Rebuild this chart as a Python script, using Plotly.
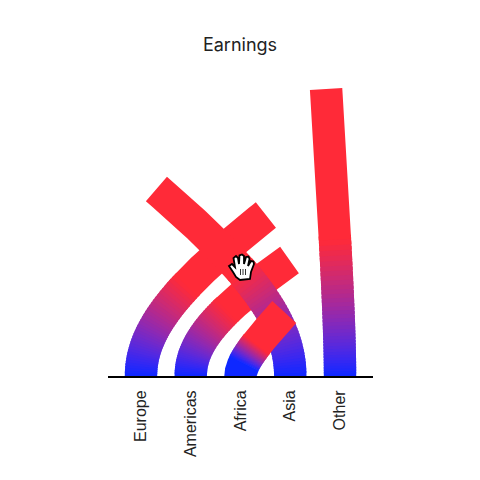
import numpy as np
import plotly.graph_objects as go

categories = ["Europe", "Americas", "Africa", "Asia", "Other"]
values = [161, 116, 64, 187, 287]
end_positions = [2.51, 2.985, 2.88, 0.31, 3.72]
bend_heights = [62, 46, 16, 72, 63]
solid_blue_until = [0.0, 0.0, 0.3, 0.0, 0.0]
draw_order = [4, 0, 1, 3, 2]

BLUE = np.array([14, 40, 255], dtype=float)
RED = np.array([255, 42, 56], dtype=float)
RED_FROM = 0.625
ROUNDNESS = 0.73
X_RANGE = [-0.663, 4.663]
Y_RANGE = [0, 300]
PLOT_W, PLOT_H = 265, 300
UX = PLOT_W / (X_RANGE[1] - X_RANGE[0])
UY = PLOT_H / (Y_RANGE[1] - Y_RANGE[0])
HALF = 16.2


def curve(i, t):
    k = ROUNDNESS
    x0, x3 = i * UX, end_positions[i] * UX
    y0, yc, y3 = 0.0, bend_heights[i] * UY, values[i] * UY
    x1, y1 = x0, y0 + k * (yc - y0)
    x2, y2 = x3 + k * (x0 - x3), y3 + k * (yc - y3)
    u = 1 - t
    px = u**3 * x0 + 3 * u**2 * t * x1 + 3 * u * t**2 * x2 + t**3 * x3
    py = u**3 * y0 + 3 * u**2 * t * y1 + 3 * u * t**2 * y2 + t**3 * y3
    dx = 3 * u**2 * (x1 - x0) + 6 * u * t * (x2 - x1) + 3 * t**2 * (x3 - x2)
    dy = 3 * u**2 * (y1 - y0) + 6 * u * t * (y2 - y1) + 3 * t**2 * (y3 - y2)
    n = np.hypot(dx, dy)
    return px, py, dx / n, dy / n


def strip(i, a, b, color):
    t = np.linspace(a, b, max(3, int((b - a) * 80) + 2))
    px, py, tx, ty = curve(i, t)
    lx, ly = px - ty * HALF, py + tx * HALF
    rx, ry = px + ty * HALF, py - tx * HALF
    xs = np.r_[lx, rx[::-1], lx[0]] / UX
    ys = np.r_[ly, ry[::-1], ly[0]] / UY
    return go.Scatter(x=xs, y=ys, mode="lines", fill="toself", fillcolor=color,
                      line=dict(width=0), hoverinfo="skip", showlegend=False)


def mix_color(m):
    r = BLUE[0] + (RED[0] - BLUE[0]) * m
    g = BLUE[1] + (RED[1] - BLUE[1]) * m
    b = BLUE[2] + (RED[2] - BLUE[2]) * m ** 1.5
    return "rgb(%d,%d,%d)" % (round(r), round(g), round(b))


fig = go.Figure()
for i in draw_order:
    start = solid_blue_until[i]
    if start > 0:
        fig.add_trace(strip(i, 0, start + 0.01, mix_color(0)))
    n = 36
    edges = np.linspace(start, RED_FROM, n + 1)
    for k in range(n):
        m = (k + 0.5) / n
        fig.add_trace(strip(i, edges[k], min(edges[k + 1] + 0.012, 1), mix_color(m)))
    fig.add_trace(strip(i, RED_FROM, 1, mix_color(1)))


def P(px, py):
    return "%.4f,%.4f" % ((px - 108) / PLOT_W, (376 - py) / PLOT_H)


hand = [(229, 266), (232, 264), (235, 267), (233.5, 258), (236, 256), (238, 258), (239, 264),
        (239.5, 255.5), (242, 254.5), (244, 256), (244, 264), (246, 257), (248.5, 256.5),
        (249.5, 259), (248, 266), (251, 261), (253.5, 261.5), (254, 264), (251, 272),
        (250, 279), (240, 280), (236, 277), (233, 272)]
shapes = [dict(type="path", xref="paper", yref="paper", layer="above",
               path="M" + " L".join(P(*p) for p in hand) + " Z",
               fillcolor="white", line=dict(color="black", width=1.8))]
for gx in (240.5, 243, 245.5):
    shapes.append(dict(type="line", xref="paper", yref="paper", layer="above",
                       x0=(gx - 108) / PLOT_W, x1=(gx - 108) / PLOT_W,
                       y0=(376 - 269) / PLOT_H, y1=(376 - 275) / PLOT_H,
                       line=dict(color="#333333", width=1)))

fig.update_layout(
    width=480, height=480, autosize=False,
    margin=dict(l=100, r=115, t=68, b=112),
    paper_bgcolor="white", plot_bgcolor="white",
    showlegend=False, shapes=shapes,
    title=dict(text="Earnings", x=(240 - 8) / 480, xanchor="center", y=1 - 37 / 480, yanchor="middle",
               font=dict(family="Inter", size=18, color="#222222")),
    xaxis=dict(range=X_RANGE, tickmode="array", tickvals=list(range(5)), ticktext=categories,
               tickangle=-90, showgrid=False, zeroline=False, showline=True,
               linecolor="black", linewidth=2, ticks="outside", ticklen=6,
               tickcolor="rgba(0,0,0,0)",
               tickfont=dict(family="Liberation Sans", size=16, color="#222222")),
    yaxis=dict(range=Y_RANGE, visible=False),
)
fig.write_html("out.html")
